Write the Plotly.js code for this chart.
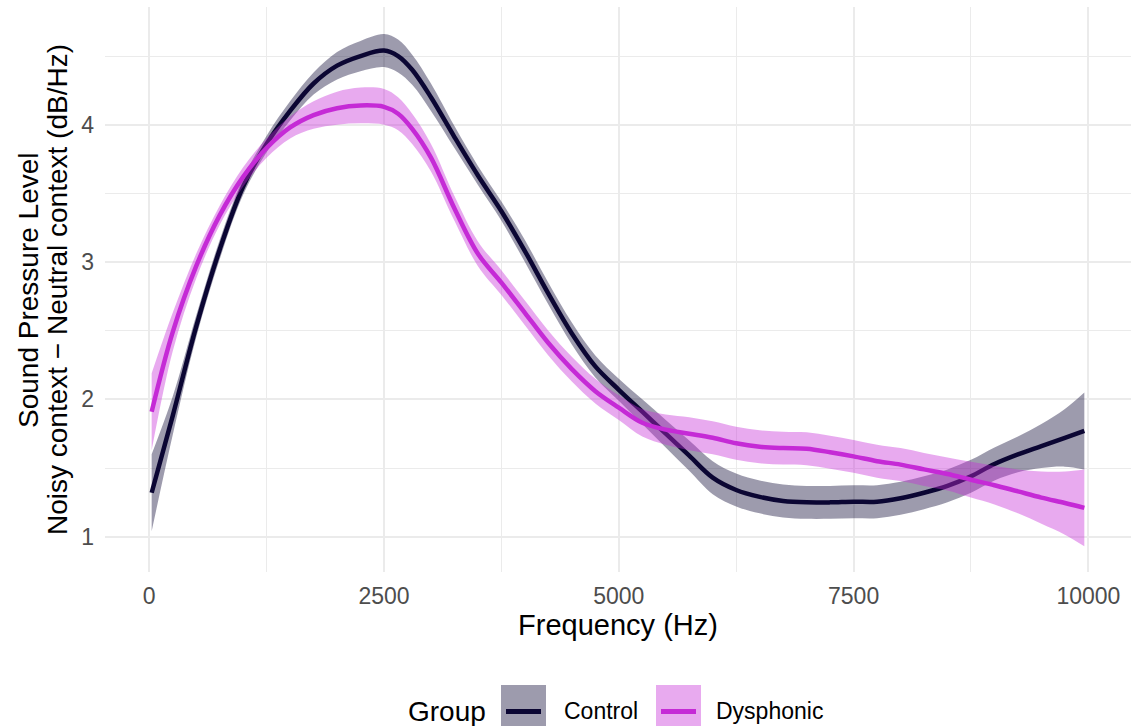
<!DOCTYPE html>
<html>
<head>
<meta charset="utf-8">
<script src="https://cdn.plot.ly/plotly-3.0.1.min.js"></script>
<style>html,body{margin:0;padding:0;background:#fff;}#chart{width:1131px;height:726px;}</style>
</head>
<body>
<div id="chart"></div>
<script>
// ---- data ----
const freq = [26, 250, 500, 750, 1000, 1250, 1500, 1750, 2000, 2250, 2500, 2650, 2800, 3000, 3250, 3500, 3750, 4000, 4250, 4500, 4750, 5000, 5250, 5500, 5750, 6000, 6250, 6500, 6750, 7000, 7250, 7500, 7750, 8000, 8250, 8500, 8750, 9000, 9250, 9500, 9750, 9957];
const controlFit = [1.32, 1.88, 2.53, 3.09, 3.55, 3.86, 4.10, 4.30, 4.43, 4.50, 4.54, 4.50, 4.40, 4.20, 3.91, 3.63, 3.37, 3.08, 2.77, 2.48, 2.24, 2.07, 1.91, 1.75, 1.59, 1.43, 1.34, 1.29, 1.26, 1.25, 1.25, 1.255, 1.255, 1.28, 1.32, 1.37, 1.44, 1.53, 1.60, 1.66, 1.72, 1.77];
const controlCI = [0.28, 0.14, 0.08, 0.07, 0.06, 0.06, 0.07, 0.08, 0.10, 0.11, 0.12, 0.12, 0.11, 0.10, 0.08, 0.07, 0.07, 0.08, 0.08, 0.08, 0.08, 0.08, 0.09, 0.10, 0.11, 0.12, 0.12, 0.12, 0.12, 0.12, 0.12, 0.12, 0.12, 0.12, 0.12, 0.12, 0.12, 0.12, 0.13, 0.16, 0.21, 0.28];
const dysphonicFit = [1.91, 2.49, 2.97, 3.34, 3.62, 3.83, 3.98, 4.07, 4.12, 4.14, 4.13, 4.08, 3.97, 3.76, 3.39, 3.06, 2.85, 2.63, 2.41, 2.22, 2.06, 1.94, 1.83, 1.78, 1.75, 1.72, 1.68, 1.655, 1.645, 1.64, 1.615, 1.585, 1.55, 1.525, 1.49, 1.457, 1.415, 1.375, 1.33, 1.285, 1.245, 1.21];
const dysphonicCI = [0.28, 0.14, 0.09, 0.07, 0.07, 0.07, 0.08, 0.10, 0.12, 0.13, 0.13, 0.12, 0.11, 0.10, 0.09, 0.09, 0.09, 0.09, 0.09, 0.09, 0.09, 0.09, 0.10, 0.11, 0.12, 0.12, 0.12, 0.12, 0.12, 0.12, 0.12, 0.12, 0.12, 0.12, 0.12, 0.12, 0.13, 0.14, 0.16, 0.19, 0.23, 0.28];
const groups = ['Control', 'Dysphonic'];
const xTicks = [0, 2500, 5000, 7500, 10000];
const yTicks = [1, 2, 3, 4];
const yTitleLines = ['Sound Pressure Level', 'Noisy context − Neutral context (dB/Hz)'];

// ---- styles ----
const FONT = 'Liberation Sans, Arial, sans-serif';
const lineColors = ['#0B0633', '#C52AD6'];
const fillColors = ['rgba(11,6,51,0.4)', 'rgba(197,42,214,0.4)'];
const fits = [controlFit, dysphonicFit];
const cis = [controlCI, dysphonicCI];

const traces = [];
groups.forEach((g, i) => {
  const lo = fits[i].map((v, k) => v - cis[i][k]);
  const hi = fits[i].map((v, k) => v + cis[i][k]);
  traces.push({x: freq, y: lo, type: 'scatter', mode: 'lines', line: {width: 0, shape: 'spline'}, showlegend: false, hoverinfo: 'skip'});
  traces.push({x: freq, y: hi, type: 'scatter', mode: 'lines', fill: 'tonexty', fillcolor: fillColors[i], line: {width: 0, shape: 'spline'}, showlegend: false, hoverinfo: 'skip'});
  traces.push({x: freq, y: fits[i], type: 'scatter', mode: 'lines', name: g, line: {color: lineColors[i], width: 4.5, shape: 'spline'}, showlegend: false});
});

// plot area in pixels: x 105..1131, y 7..572
const L = 105, R = 1131, T = 7, B = 572;
const px = v => (v - L) / (R - L);
const py = v => (B - v) / (B - T);

const shapes = [];
const annotations = [];
// y axis title (two lines, ggplot-like tight line spacing)
const yTitleX = [28, 57];
yTitleLines.forEach((t, i) => {
  annotations.push({xref: 'paper', yref: 'paper', x: px(yTitleX[i]), y: py(290), text: t, textangle: -90, showarrow: false, xanchor: 'center', yanchor: 'middle', font: {family: FONT, size: 28, color: '#000'}});
});
// legend
annotations.push({xref: 'paper', yref: 'paper', x: px(447), y: py(711), text: 'Group', showarrow: false, xanchor: 'center', yanchor: 'middle', font: {family: FONT, size: 28, color: '#000'}});
const keyX = [501, 656];
const labX = [562, 714];
groups.forEach((g, i) => {
  shapes.push({type: 'rect', xref: 'paper', yref: 'paper', x0: px(keyX[i]), x1: px(keyX[i] + 45), y0: py(685), y1: py(740), fillcolor: fillColors[i], line: {width: 0}, layer: 'above'});
  shapes.push({type: 'line', xref: 'paper', yref: 'paper', x0: px(keyX[i] + 5), x1: px(keyX[i] + 40), y0: py(711.5), y1: py(711.5), line: {color: lineColors[i], width: 5}, layer: 'above'});
  annotations.push({xref: 'paper', yref: 'paper', x: px(labX[i]), y: py(711), text: g, showarrow: false, xanchor: 'left', yanchor: 'middle', font: {family: FONT, size: 23, color: '#000'}});
});

const layout = {
  width: 1131, height: 726,
  margin: {l: L, r: 1131 - R, t: T, b: 726 - B},
  paper_bgcolor: '#fff', plot_bgcolor: '#fff',
  showlegend: false,
  font: {family: FONT},
  xaxis: {
    range: [-471, 10454], tickmode: 'array', tickvals: xTicks, ticktext: xTicks.map(String),
    showgrid: true, gridcolor: '#EBEBEB', gridwidth: 2, zeroline: false, showline: false, ticks: '',
    tickfont: {family: FONT, size: 23, color: '#4D4D4D'}, ticklabelstandoff: 8,
    minor: {tickmode: 'array', tickvals: [1250, 3750, 6250, 8750], showgrid: true, gridcolor: '#EBEBEB', gridwidth: 1, ticks: ''},
    title: {text: 'Frequency (Hz)', font: {family: FONT, size: 29, color: '#000'}, standoff: 6}
  },
  yaxis: {
    range: [0.743, 4.857], tickmode: 'array', tickvals: yTicks, ticktext: yTicks.map(String),
    showgrid: true, gridcolor: '#EBEBEB', gridwidth: 2, zeroline: false, showline: false, ticks: '',
    tickfont: {family: FONT, size: 23, color: '#4D4D4D'}, ticklabelstandoff: 10,
    minor: {tickmode: 'array', tickvals: [1.5, 2.5, 3.5, 4.5], showgrid: true, gridcolor: '#EBEBEB', gridwidth: 1, ticks: ''}
  },
  shapes: shapes,
  annotations: annotations
};

Plotly.newPlot('chart', traces, layout, {displayModeBar: false, staticPlot: true});
</script>
</body>
</html>
